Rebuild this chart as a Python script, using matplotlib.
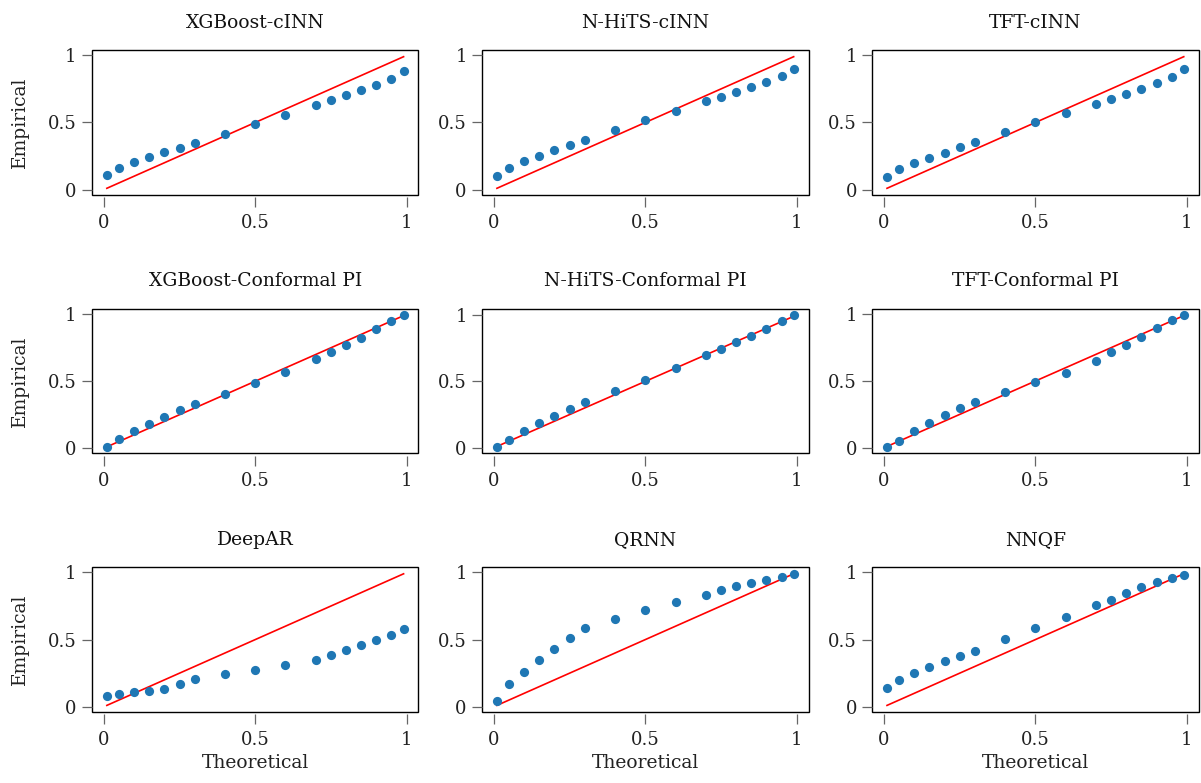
import matplotlib
matplotlib.use("Agg")
import matplotlib.pyplot as plt

plt.rcParams["font.family"] = "DejaVu Serif"

# nominal quantile levels (theoretical)
levels = [0.01, 0.05, 0.1, 0.15, 0.2, 0.25, 0.3, 0.4, 0.5, 0.6,
          0.7, 0.75, 0.8, 0.85, 0.9, 0.95, 0.99]

titles = ["XGBoost-cINN", "N-HiTS-cINN", "TFT-cINN",
          "XGBoost-Conformal PI", "N-HiTS-Conformal PI", "TFT-Conformal PI",
          "DeepAR", "QRNN", "NNQF"]

xgb_cinn = [0.112, 0.164, 0.206, 0.246, 0.278, 0.313, 0.345, 0.414, 0.486,
            0.558, 0.630, 0.667, 0.702, 0.742, 0.782, 0.826, 0.886]
nhits_cinn = [0.105, 0.162, 0.211, 0.251, 0.292, 0.330, 0.368, 0.443, 0.516,
              0.589, 0.659, 0.692, 0.727, 0.762, 0.800, 0.843, 0.897]
tft_cinn = [0.097, 0.151, 0.196, 0.236, 0.275, 0.315, 0.355, 0.429, 0.501,
            0.573, 0.638, 0.672, 0.712, 0.747, 0.792, 0.841, 0.896]
xgb_conf = [0.010, 0.069, 0.129, 0.184, 0.233, 0.285, 0.330, 0.407, 0.486,
            0.571, 0.667, 0.720, 0.774, 0.826, 0.888, 0.948, 0.993]
nhits_conf = [0.007, 0.060, 0.124, 0.184, 0.241, 0.295, 0.345, 0.429, 0.511,
              0.600, 0.695, 0.747, 0.797, 0.844, 0.898, 0.953, 0.998]
tft_conf = [0.007, 0.052, 0.127, 0.189, 0.248, 0.298, 0.345, 0.419, 0.496,
            0.563, 0.650, 0.715, 0.772, 0.829, 0.896, 0.958, 0.993]
deepar = [0.077, 0.094, 0.109, 0.119, 0.129, 0.171, 0.205, 0.243, 0.277,
          0.312, 0.347, 0.386, 0.421, 0.460, 0.498, 0.535, 0.577]
qrnn = [0.040, 0.168, 0.260, 0.349, 0.433, 0.515, 0.589, 0.656, 0.723,
        0.782, 0.829, 0.869, 0.899, 0.921, 0.943, 0.965, 0.988]
nnqf = [0.141, 0.198, 0.248, 0.295, 0.339, 0.379, 0.416, 0.505, 0.587,
        0.668, 0.757, 0.797, 0.849, 0.894, 0.928, 0.955, 0.980]

empirical = [xgb_cinn, nhits_cinn, tft_cinn, xgb_conf, nhits_conf, tft_conf,
             deepar, qrnn, nnqf]

fig, axes = plt.subplots(3, 3, figsize=(12.01, 7.83), dpi=100)
fig.subplots_adjust(left=0.0766, right=0.998, top=0.936, bottom=0.0907,
                    wspace=0.195, hspace=0.786)

for i, ax in enumerate(axes.flat):
    ax.plot(levels, levels, color="red", lw=1.2, zorder=2)
    ax.scatter(levels, empirical[i], s=44, color="#1f77b4", zorder=3,
               linewidths=0)
    ax.set_title(titles[i], fontsize=13.5, pad=16, color="#111111")

    # frame drawn by the patch, ticks sit on offset (hidden) spines
    for side in ["top", "right", "left", "bottom"]:
        ax.spines[side].set_visible(False)
    ax.spines["bottom"].set_position(("outward", 1.5))
    ax.patch.set_edgecolor("black")
    ax.patch.set_linewidth(1.0)

    ax.set_xticks([0, 0.5, 1])
    ax.set_xticklabels(["0", "0.5", "1"])
    ax.set_yticks([0, 0.5, 1])
    ax.set_yticklabels(["0", "0.5", "1"])
    ax.tick_params(axis="both", length=7, width=0.9, color="#666666",
                   labelsize=13, labelcolor="#222222")
    ax.tick_params(axis="x", pad=5)
    ax.tick_params(axis="y", pad=4)

    if i % 3 == 0:
        ax.set_ylabel("Empirical", fontsize=13.5, color="#222222", labelpad=14)
    if i >= 6:
        ax.set_xlabel("Theoretical", fontsize=13.5, color="#222222", labelpad=4)

fig.savefig("out.png", dpi=100)
